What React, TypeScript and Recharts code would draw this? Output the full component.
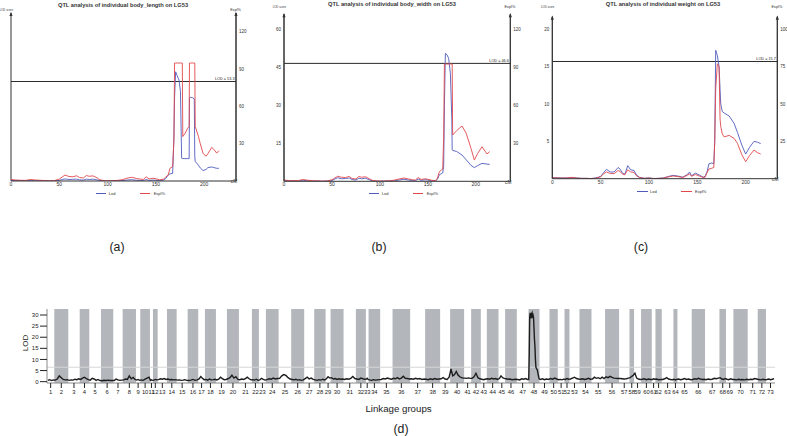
import React from "react";
import { LineChart, Line, XAxis, YAxis, ReferenceLine, ReferenceArea, ReferenceDot } from "recharts";

const FONT = "'Liberation Sans', Arial, Helvetica, sans-serif";
const BLUE = "#4f5bbd";
const RED = "#e2474c";
const INK = "#333";

// ---- top row: LOD / Expl% profiles along LG53 ----
const lengthCm = [0, 5, 10, 15, 20, 25, 30, 35, 40, 45, 50, 53, 56, 60, 64, 68, 71, 75, 78, 81, 85, 89, 92, 96, 100, 105, 110, 115, 120, 125, 130, 134, 137, 140, 143, 147, 150, 154, 158, 160, 162.8, 164.6, 167.4, 168.7, 169.4, 170.5, 172, 174, 175.5, 176.7, 177.4, 177.9, 180, 183, 184.5, 184.8, 186, 188, 189.8, 190.3, 190.8, 194, 196, 199, 202, 204, 207.8, 210, 213, 215.3];
const lengthLod = [0.3, 0.2, 0.2, 0.1, 0.3, 0.2, 0.1, 0.1, 0.0, 0.1, 0.3, 0.8, 1.1, 0.8, 0.9, 1.0, 0.6, 0.5, 1.0, 0.8, 1.0, 0.6, 0.2, 0.1, 0.0, 0.1, 0.1, 0.2, 0.5, 0.7, 0.4, 0.3, 0.2, 0.8, 0.3, 0.5, 0.4, 0.2, 0.5, 1.2, 3.2, 3.8, 4.1, 22.9, 45, 58.5, 56.5, 54, 48, 12.2, 12.1, 12, 12, 12, 12, 44.8, 44.8, 44.6, 44, 13, 10.5, 8.5, 7, 5.6, 6.2, 7.2, 7.5, 7.2, 6.8, 6.8];
const lengthExpl = [1.2, 0.8, 0.6, 0.5, 1.2, 0.8, 0.6, 0.4, 0.2, 0.4, 1.5, 3.2, 4.8, 3.6, 3.4, 4.2, 2.8, 2.4, 4.4, 3.8, 4.1, 2.6, 1.0, 0.4, 0.2, 0.3, 0.5, 1.0, 2.2, 3.0, 2.0, 1.5, 1.2, 3.4, 1.6, 2.2, 1.8, 0.9, 1.5, 3.0, 4.8, 10.2, 11.5, 33, 94.8, 94.8, 94.8, 94.8, 94.8, 94.8, 94.8, 35.7, 38, 42.4, 44, 94.8, 94.8, 94.8, 94.8, 94.8, 43.7, 36, 30, 22, 20, 22, 27, 25.5, 22.4, 24.4];

const widthCm = [0, 5, 10, 15, 20, 25, 30, 35, 40, 45, 50, 53, 56, 60, 64, 68, 71, 75, 78, 81, 85, 89, 92, 96, 100, 105, 110, 115, 120, 125, 130, 134, 137, 140, 143, 147, 150, 154, 158, 160, 162, 164, 165.5, 166.5, 167.3, 168.3, 170, 171.7, 173.5, 175, 175.4, 175.9, 180, 185.6, 190, 195, 198.5, 202, 206.5, 211.7, 214.5];
const widthLod = [0.3, 0.2, 0.2, 0.1, 0.4, 0.2, 0.1, 0.1, 0.0, 0.1, 0.3, 0.9, 1.4, 1.0, 1.1, 1.3, 0.7, 0.5, 1.2, 1.0, 1.2, 0.6, 0.2, 0.1, 0.0, 0.1, 0.1, 0.2, 0.5, 0.8, 0.5, 0.3, 0.2, 0.9, 0.4, 0.6, 0.5, 0.2, 0.1, 0.8, 2.6, 3.0, 3.3, 5.8, 30, 50.6, 50, 48.6, 42.7, 25, 12.4, 12.2, 11.8, 10.4, 8.5, 6.3, 5.4, 6.2, 7.1, 6.8, 6.7];
const widthExpl = [1.0, 0.6, 0.5, 0.6, 1.4, 0.8, 0.5, 0.4, 0.2, 0.3, 1.2, 2.6, 4.0, 3.2, 3.0, 3.8, 2.2, 1.8, 3.8, 3.2, 3.6, 2.0, 0.8, 0.3, 0.2, 0.3, 0.4, 0.9, 1.8, 2.6, 1.8, 1.2, 1.0, 3.0, 1.4, 2.0, 1.6, 0.8, 0.5, 2.5, 7.5, 8.8, 9.5, 34, 92.7, 92.7, 92.7, 92.7, 92.7, 92.7, 92.7, 36.6, 40, 43.7, 38, 26, 16.8, 22, 27.3, 21.6, 23.4];

const weightCm = [0, 5, 10, 15, 20, 25, 30, 35, 40, 45, 50, 53, 56, 60, 64, 68, 70, 73, 75, 78, 81, 84.5, 87, 90, 95, 100, 105, 110, 115, 120, 125, 130, 135, 140, 142, 144, 148, 152, 156, 158, 160, 162, 165, 167, 168, 169, 170.7, 172.5, 173.5, 174.2, 175.8, 177.7, 182.9, 188, 191.5, 196, 200, 204, 208.6, 212, 215.5];
const weightLod = [0.15, 0.12, 0.1, 0.1, 0.15, 0.1, 0.05, 0.05, 0.02, 0.1, 0.3, 0.8, 1.25, 0.9, 0.9, 1.5, 1.3, 0.7, 0.6, 1.75, 1.2, 1.1, 0.5, 0.2, 0.05, 0.1, 0.02, 0.05, 0.1, 0.3, 0.45, 0.35, 0.2, 0.6, 0.9, 0.4, 0.75, 0.5, 0.2, 0.3, 0.9, 2.0, 2.1, 2.0, 5.0, 17.2, 16.5, 15.0, 12, 10, 9.0, 8.8, 8.4, 7.4, 6.2, 4.5, 3.3, 4.2, 5.0, 4.9, 4.7];
const weightExpl = [0.6, 0.5, 0.4, 0.5, 0.9, 0.4, 0.2, 0.2, 0.1, 0.3, 1.3, 3.2, 4.5, 3.5, 3.4, 5.5, 4.8, 3.0, 2.6, 6.0, 4.6, 4.2, 2.0, 0.8, 0.2, 0.4, 0.1, 0.2, 0.4, 1.2, 1.8, 1.4, 0.8, 2.4, 3.2, 1.6, 2.8, 1.8, 0.8, 1.0, 4.0, 6.5, 7.0, 7.5, 25, 60, 77, 75, 40, 35, 30, 28, 29, 27, 23.7, 16, 11.4, 15.5, 19.2, 17.5, 16.5];

const cmTicks = [0, 50, 100, 150, 200];

// ---- bottom row: genome scan over 73 linkage groups ----
const lgLengths = [146, 280, 228, 192, 234, 246, 188, 266, 86, 194, 60, 94, 186, 194, 220, 212, 134, 220, 220, 240, 260, 140, 140, 254, 252, 260, 200, 228, 100, 260, 246, 200, 54, 232, 248, 352, 300, 300, 200, 280, 140, 194, 120, 234, 132, 234, 234, 220, 200, 166, 134, 100, 200, 240, 272, 280, 208, 92, 140, 214, 74, 126, 234, 80, 286, 266, 288, 132, 148, 286, 200, 166, 180];

const genomeLod: number[][] = [
  [0.6, 0.9, 0.5, 0.8],
  [0.7, 1.2, 2.6, 1.8, 1.0, 0.8, 0.9],
  [0.6, 0.8, 0.7, 1.1, 0.9, 1.3],
  [1.0, 1.6, 2.0, 1.4, 0.9],
  [0.7, 1.5, 1.2, 0.6, 1.0, 0.5],
  [0.4, 0.6, 0.5, 0.7, 0.5, 0.6],
  [0.5, 1.2, 0.8, 0.6, 0.7],
  [0.8, 1.2, 1.0, 2.6, 1.3, 1.9, 1.0],
  [0.7, 1.0, 0.6],
  [0.8, 0.6, 1.1, 1.6, 2.0],
  [0.5, 0.8, 0.6],
  [0.7, 1.0, 0.8],
  [0.9, 1.3, 1.1, 1.4, 1.0],
  [1.2, 0.9, 1.0, 0.8, 0.9],
  [0.7, 0.8, 0.6, 0.7, 0.9, 0.6],
  [0.5, 0.7, 1.0, 0.6, 0.8],
  [1.2, 2.3, 1.5, 0.9],
  [1.0, 0.7, 1.2, 0.8, 0.9, 1.1],
  [0.8, 1.1, 2.0, 1.4, 0.9, 1.0],
  [1.3, 1.8, 2.9, 1.6, 2.2, 1.0],
  [0.9, 1.2, 1.0, 1.4, 2.0, 1.3, 0.8],
  [0.9, 0.7, 1.1, 0.6],
  [0.8, 1.5, 1.0, 0.7],
  [0.9, 1.3, 1.1, 1.6, 1.2, 1.4],
  [1.5, 2.6, 3.2, 2.8, 1.8, 1.2],
  [1.0, 0.8, 1.1, 0.7, 0.9, 0.6, 0.8],
  [1.4, 2.0, 1.2, 1.6, 1.0],
  [0.8, 0.6, 0.9, 0.7, 1.1, 0.8],
  [1.3, 2.2, 1.6],
  [1.8, 1.2, 1.4, 1.0, 1.3, 1.1, 1.2],
  [1.0, 1.3, 1.1, 1.5, 2.3, 1.4],
  [1.2, 1.0, 1.6, 1.3, 1.1],
  [1.2, 1.5, 1.0],
  [0.8, 0.6, 0.9, 0.7, 0.8, 0.9],
  [1.0, 1.4, 1.2, 1.6, 1.3, 1.1],
  [1.5, 1.3, 1.8, 1.2, 1.6, 2.4, 1.5, 1.4, 1.2],
  [1.3, 1.1, 1.5, 1.2, 1.4, 1.0, 1.2],
  [1.1, 0.9, 1.3, 1.0, 1.4, 1.1, 1.2],
  [1.3, 1.8, 1.2, 1.0, 2.0],
  [5.7, 2.6, 3.2, 4.6, 3.0, 2.2, 1.8, 1.6],
  [1.6, 1.5, 1.7, 1.5],
  [1.5, 2.2, 3.8, 1.8, 1.3],
  [1.1, 0.9, 1.2],
  [1.3, 1.1, 1.5, 1.2, 1.4, 1.0],
  [1.4, 2.6, 1.8, 1.5],
  [1.3, 1.1, 1.2, 0.9, 1.0, 1.1],
  [1.0, 0.8, 1.3, 1.1, 1.4, 1.0],
  [1.0, 12, 29, 31, 30, 28.5, 30.5, 31, 29.5, 30, 29, 24, 19, 15.8, 10, 6.5, 6, 5.5, 5.3, 4, 3, 2, 1.2],
  [1.0, 1.3, 0.9, 1.2, 1.0],
  [1.4, 1.1, 1.6, 1.2],
  [0.9, 1.0, 0.8, 1.1],
  [1.0, 1.4, 1.1],
  [1.2, 1.6, 2.0, 1.4, 1.2],
  [1.1, 1.3, 1.0, 1.2, 1.5, 1.1],
  [1.2, 2.0, 1.5, 1.8, 1.3, 2.0, 1.4],
  [2.2, 1.8, 2.4, 1.9, 1.6, 1.5, 1.4],
  [1.4, 1.3, 1.2, 1.3, 1.6],
  [1.8, 2.4, 2.9],
  [3.8, 1.6, 1.2, 1.0],
  [1.1, 1.3, 0.9, 1.2, 1.0],
  [1.0, 1.3, 1.1],
  [1.2, 0.9, 1.0],
  [1.0, 1.3, 1.8, 1.2, 1.0, 0.9],
  [1.1, 0.8, 1.0],
  [1.2, 0.9, 1.1, 1.4, 1.0, 1.2, 0.9],
  [1.0, 1.3, 1.1, 1.5, 1.2, 1.0, 1.1],
  [0.9, 1.2, 1.0, 1.1, 1.5, 1.3, 1.6],
  [1.8, 1.2, 1.0, 1.4],
  [1.1, 0.9, 1.3, 1.0],
  [1.0, 0.8, 1.1, 0.9, 1.0, 0.8, 1.1],
  [0.9, 1.1, 1.0, 1.4, 1.2],
  [1.0, 0.8, 1.1, 0.9],
  [1.0, 1.2, 0.9, 1.1, 1.4],
];
const genomeTicks = [0, 5, 10, 15, 20, 25, 30];
const genomeThreshold = 6.5;

const groupStarts: number[] = [];
const genomeLength = lgLengths.reduce((acc, len) => {
  groupStarts.push(acc);
  return acc + len;
}, 0);
const groupCenters = lgLengths.map((len, i) => groupStarts[i] + len / 2);
const groupNames = lgLengths.map((_, i) => String(i + 1));
const scanRows = genomeLod.flatMap((vals, g) =>
  vals.map((lod, i) => ({ pos: groupStarts[g] + ((i + 0.5) / vals.length) * lgLengths[g], lod }))
);

const panels = [
  {
    tag: "(a)", title: "QTL analysis of individual body_length on LG53",
    cm: lengthCm, lod: lengthLod, expl: lengthExpl, threshold: 53.3,
    lodTicks: [20, 40, 60, 80], explTicks: [30, 60, 90, 120], lodMax: 90, explMax: 135, xMax: 233,
    left: 0, width: 262, mirror: true, leftW: 0, rightW: 20,
    margin: { top: 13, right: 6, bottom: 7, left: 11 },
    titleX: 123, titleY: 5, legendX: 95.7, legendY: 193.3, capLift: 1.7, tagX: 117,
  },
  {
    tag: "(b)", title: "QTL analysis of individual body_width on LG53",
    cm: widthCm, lod: widthLod, expl: widthExpl, threshold: 46.6,
    lodTicks: [15, 30, 45, 60], explTicks: [30, 60, 90, 120], lodMax: 66, explMax: 132, xMax: 236,
    left: 262, width: 262, mirror: false, leftW: 20, rightW: 10,
    margin: { top: 14.3, right: 3.7, bottom: 6.7, left: 2 },
    titleX: 130, titleY: 4, legendX: 106.7, legendY: 193.3, capLift: 6.3, tagX: 117,
  },
  {
    tag: "(c)", title: "QTL analysis of individual weight on LG53",
    cm: weightCm, lod: weightLod, expl: weightExpl, threshold: 15.7,
    lodTicks: [5, 10, 15, 20], explTicks: [25, 50, 75, 100], lodMax: 21.7, explMax: 108.5, xMax: 232.7,
    left: 524, width: 263, mirror: false, leftW: 20, rightW: 8,
    margin: { top: 16.7, right: 1.7, bottom: 9.3, left: 8.3 },
    titleX: 139, titleY: 4, legendX: 113, legendY: 191.7, capLift: 8.7, tagX: 117,
  },
];

const tinyText = { fontSize: 4.5, fill: INK, fontFamily: FONT };

const axisCap = (text: string, side: "left" | "right", lift: number) => (props: any) => {
  const { cx, cy } = props;
  return (
    <g>
      <path d={`M${cx - 1.6},${cy + 3} L${cx},${cy - 1.2} L${cx + 1.6},${cy + 3} Z`} fill={INK} />
      <text x={side === "left" ? cx + 2 : cx + 5} y={cy - lift} textAnchor="end"
        fontSize={side === "left" ? 2.8 : 3.8} fill={INK} fontFamily={FONT}>
        {text}
      </text>
    </g>
  );
};

const cmCap = (props: any) => (
  <text x={props.cx - 2} y={props.cy + 2.3} textAnchor="middle" fontSize={4.8} fill={INK} fontFamily={FONT}>
    cM
  </text>
);

function QtlPanel({ p }: { p: (typeof panels)[number] }) {
  const rows = p.cm.map((c, i) => ({ cm: c, lod: p.lod[i], expl: p.expl[i] }));
  const small = { position: "absolute" as const, fontFamily: FONT, color: INK, whiteSpace: "nowrap" as const };
  return (
    <div style={{ position: "absolute", left: p.left, top: 0, width: p.width, height: 200 }}>
      <LineChart width={p.width} height={200} data={rows} margin={p.margin}>
        <XAxis type="number" dataKey="cm" domain={[0, p.xMax]} ticks={cmTicks} tickLine={false} tickSize={1}
          tickMargin={0.5} height={12} axisLine={{ stroke: INK }} tick={{ fontSize: 5, fill: INK, fontFamily: FONT }} allowDataOverflow />
        <YAxis yAxisId="lod" domain={[0, p.lodMax]} ticks={p.lodTicks} width={p.leftW} mirror={p.mirror}
          tickLine={false} tickSize={0} tickMargin={p.mirror ? 1.3 : 3} axisLine={{ stroke: INK }} tick={tinyText} allowDataOverflow />
        <YAxis yAxisId="exp" orientation="right" domain={[0, p.explMax]} ticks={p.explTicks} width={p.rightW}
          tickLine={false} tickSize={0} tickMargin={3} axisLine={{ stroke: INK }} tick={tinyText} allowDataOverflow />
        <ReferenceLine yAxisId="lod" x={0} stroke={INK} strokeWidth={1} ifOverflow="visible" />
        <ReferenceLine yAxisId="lod" x={p.xMax} stroke={INK} strokeWidth={1} ifOverflow="visible" />
        <ReferenceLine yAxisId="lod" y={p.threshold} stroke="#2b2b2b" strokeWidth={1}
          label={{ value: `LOD = ${p.threshold}`, position: "insideBottomRight", offset: 1.5, fontSize: 3.8, fill: "#222", fontFamily: FONT }} />
        <Line yAxisId="lod" type="linear" dataKey="lod" stroke={BLUE} strokeWidth={0.9} dot={false} isAnimationActive={false} />
        <Line yAxisId="exp" type="linear" dataKey="expl" stroke={RED} strokeWidth={0.9} dot={false} isAnimationActive={false} />
        <ReferenceDot yAxisId="lod" x={0} y={p.lodMax} ifOverflow="visible" shape={axisCap("LOD score", "left", p.capLift)} />
        <ReferenceDot yAxisId="lod" x={p.xMax} y={p.lodMax} ifOverflow="visible" shape={axisCap("Expl%", "right", p.capLift)} />
        <ReferenceDot yAxisId="lod" x={p.xMax} y={0} ifOverflow="visible" shape={cmCap} />
      </LineChart>
      <div style={{ ...small, left: p.titleX - 100, width: 200, top: p.titleY - 3.5, lineHeight: "7px", fontSize: 5.7, fontWeight: 700, textAlign: "center" }}>
        {p.title}
      </div>
      <div style={{ ...small, left: p.legendX, top: p.legendY - 0.5, width: 10.5, height: 1, background: BLUE }} />
      <div style={{ ...small, left: p.legendX + 13, top: p.legendY - 2.5, fontSize: 4, lineHeight: "5px" }}>Lod</div>
      <div style={{ ...small, left: p.legendX + 44, top: p.legendY - 0.5, width: 10.5, height: 1, background: RED }} />
      <div style={{ ...small, left: p.legendX + 58, top: p.legendY - 2.5, fontSize: 4, lineHeight: "5px" }}>Expl%</div>
      <div style={{ ...small, left: p.tagX - 20, width: 40, top: 239, fontSize: 12.3, lineHeight: "16px", textAlign: "center", color: "#222" }}>
        {p.tag}
      </div>
    </div>
  );
}

function GenomeScan() {
  const frame = { stroke: "#8a8a8a" };
  return (
    <div style={{ position: "absolute", left: 0, top: 300, width: 787, height: 136 }}>
      <LineChart width={787} height={136} data={scanRows} margin={{ top: 9, right: 12, bottom: 33, left: 17 }}>
        <XAxis type="number" dataKey="pos" domain={[0, genomeLength]} ticks={groupCenters} interval={0}
          tickFormatter={(_v: number, i: number) => groupNames[i] ?? ""} tickSize={5} tickMargin={2} height={20}
          axisLine={frame} tickLine={{ stroke: "#222" }} tick={{ fontSize: 5.8, fill: "#222", fontFamily: FONT }} allowDataOverflow />
        <XAxis xAxisId="top" orientation="top" type="number" domain={[0, genomeLength]} height={0} tick={false} tickLine={false} axisLine={frame} />
        <YAxis domain={[-0.6, 32.7]} ticks={genomeTicks} width={30} tickSize={7} tickMargin={1.5}
          axisLine={frame} tickLine={{ stroke: "#222" }} tick={{ fontSize: 6, fill: "#222", fontFamily: FONT }} allowDataOverflow />
        <YAxis yAxisId="frame" orientation="right" domain={[-0.6, 32.7]} width={0} tick={false} tickLine={false} axisLine={frame} />
        {lgLengths.map((len, g) =>
          g % 2 === 1 ? (
            <ReferenceArea key={g} x1={groupStarts[g]} x2={groupStarts[g] + len} fill="#b3b6bb" fillOpacity={1} stroke="none" />
          ) : null
        )}
        <ReferenceLine y={genomeThreshold} stroke="#d6d6d6" strokeWidth={1} />
        <Line type="linear" dataKey="lod" stroke="#1c1c1c" strokeWidth={1.4} dot={false} isAnimationActive={false} />
      </LineChart>
      <div style={{ position: "absolute", left: 15.5, top: 38, width: 20, height: 10, lineHeight: "10px", fontSize: 8, textAlign: "center", transform: "rotate(-90deg)", fontFamily: FONT, color: "#222" }}>
        LOD
      </div>
      <div style={{ position: "absolute", left: 348.5, top: 103, width: 100, lineHeight: "12px", fontSize: 9.7, textAlign: "center", fontFamily: FONT, color: "#222" }}>
        Linkage groups
      </div>
      <div style={{ position: "absolute", left: 381, top: 121, width: 40, lineHeight: "16px", fontSize: 12.3, textAlign: "center", fontFamily: FONT, color: "#222" }}>
        (d)
      </div>
    </div>
  );
}

export default function App() {
  return (
    <div style={{ position: "absolute", left: 0, top: 0, width: 787, height: 436, background: "#fff", fontFamily: FONT }}>
      {panels.map((p) => (
        <QtlPanel key={p.tag} p={p} />
      ))}
      <GenomeScan />
    </div>
  );
}
